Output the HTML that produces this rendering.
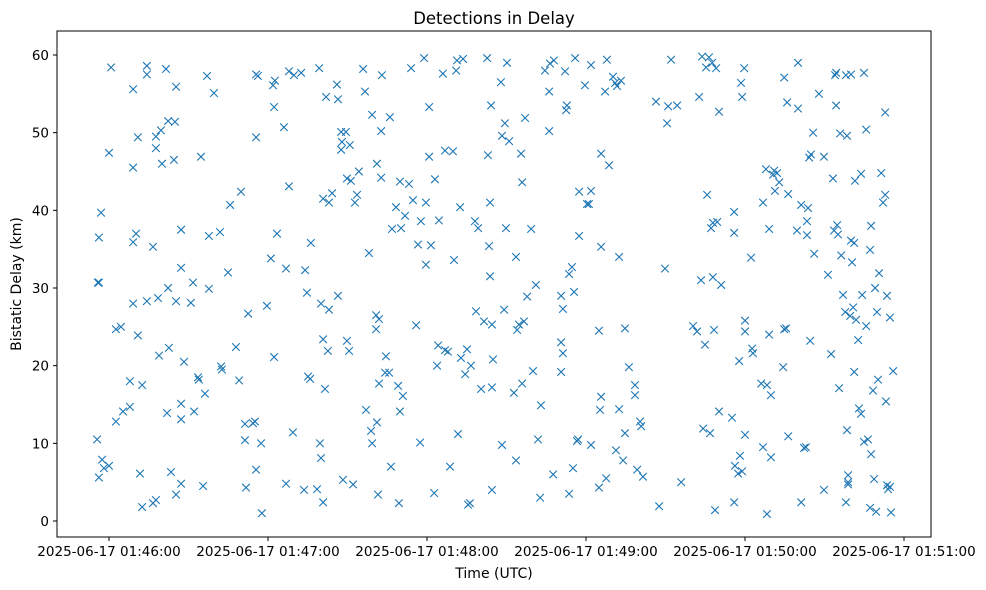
<!DOCTYPE html>
<html><head><meta charset="utf-8">
<style>
html,body{margin:0;padding:0;background:#fff;}
svg{display:block;font-family:"DejaVu Sans","Liberation Sans",sans-serif;}
</style></head>
<body>
<svg id="chart" width="986" height="590" viewBox="0 0 986 590">
<rect x="0" y="0" width="986" height="590" fill="#fff"/>
<text x="494" y="24" text-anchor="middle" font-size="16.5" fill="#000">Detections in Delay</text>
<text x="494" y="578" text-anchor="middle" font-size="14" fill="#000">Time (UTC)</text>
<text x="21" y="284" text-anchor="middle" font-size="14" fill="#000" transform="rotate(-90 21 284)">Bistatic Delay (km)</text>
<g id="marks"></g>
<g id="axes"></g>
</svg>
<script>
// seconds after 01:45:00 UTC
const xTickSeconds=[60,120,180,240,300,360];
const xTickLabels=["2025-06-17 01:46:00","2025-06-17 01:47:00","2025-06-17 01:48:00","2025-06-17 01:49:00","2025-06-17 01:50:00","2025-06-17 01:51:00"];
const yTickValues=[0,10,20,30,40,50,60];
const times=[55.8,56.2,55.5,56.2,57.0,56.2,57.4,58.1,60.0,60.0,60.8,62.6,64.5,65.3,62.6,67.9,67.9,69.1,69.1,69.1,69.1,70.2,70.9,70.9,71.7,72.5,72.5,74.3,74.3,74.3,76.6,76.6,77.7,77.7,77.7,78.5,78.9,79.6,80.0,81.5,81.9,82.3,82.3,82.6,83.4,84.9,84.5,85.3,85.3,85.3,
87.2,87.2,87.2,87.2,87.2,88.3,90.9,91.7,92.1,93.6,93.9,94.7,95.5,96.2,97.0,97.7,97.7,99.6,101.9,102.3,102.6,104.9,105.7,107.9,109.1,109.8,111.3,111.3,111.7,112.5,114.3,115.1,115.5,115.5,115.5,116.2,117.4,117.7,119.6,121.1,121.9,122.3,122.3,122.6,123.4,126.0,126.8,126.8,127.9,127.9,129.4,129.8,132.5,133.6,134.0,134.7,135.1,135.9,136.2,138.5,139.3,139.6,140.0,140.0,140.8,140.8,140.8,141.5,141.9,142.6,143.0,143.0,144.2,146.0,146.4,146.4,147.6,147.6,147.9,148.3,149.4,149.8,149.8,150.6,150.9,151.3,152.1,152.8,153.6,154.3,155.9,156.6,157.0,158.1,158.9,159.3,159.3,160.8,160.8,161.1,161.5,161.1,161.9,161.9,162.7,162.7,163.0,164.2,164.5,165.7,166.0,166.4,166.8,168.3,169.1,169.4,169.8,169.8,170.2,170.9,171.7,173.2,174.0,174.7,175.9,176.6,177.4,177.7,178.9,179.6,179.6,180.8,180.8,181.5,182.7,183.0,183.8,184.2,184.5,186.0,186.8,186.8,187.9,188.7,189.8,190.2,191.0,191.3,191.7,192.5,192.8,193.6,194.4,195.1,195.5,196.2,196.6,198.1,198.5,199.3,200.4,201.5,202.7,203.0,203.4,203.8,203.8,204.2,204.5,204.5,204.9,204.5,
207.9,208.3,208.3,209.1,209.4,209.8,210.2,211.0,212.8,213.6,213.6,214.0,214.7,215.5,215.9,215.9,216.6,217.0,217.8,219.3,220.0,221.1,221.9,222.7,223.0,224.5,226.1,226.1,226.4,227.6,227.9,230.6,230.6,230.6,231.3,231.3,232.1,232.5,232.8,233.6,233.6,234.7,235.1,235.5,235.9,236.6,237.0,237.4,237.4,239.6,240.4,241.1,241.9,241.9,241.9,244.9,244.9,245.3,245.7,245.7,245.7,247.2,247.6,247.9,248.7,250.2,251.0,251.3,251.7,252.5,252.5,253.2,254.0,254.7,254.7,256.2,258.5,258.5,259.3,260.4,260.8,261.5,266.4,267.6,269.8,270.6,271.0,272.1,274.4,275.9,
280.4,281.9,282.7,283.4,283.8,284.2,284.9,285.3,285.7,286.4,286.8,287.2,287.6,287.9,287.9,288.3,288.7,289.1,289.5,290.2,290.2,291.0,295.1,295.9,295.9,295.9,296.2,297.4,297.8,298.1,298.5,298.9,298.9,299.7,300.0,300.0,300.0,302.3,302.7,303.0,306.1,306.8,306.8,307.9,308.3,308.3,309.1,309.1,309.8,309.8,310.6,311.0,311.3,312.1,312.9,314.4,314.8,314.8,315.5,315.9,316.3,316.3,319.6,320.0,320.0,321.2,321.2,322.3,323.0,323.4,323.4,323.8,324.2,324.6,324.9,325.7,326.1,327.9,329.8,329.8,331.3,332.5,333.2,333.6,334.0,334.4,334.4,334.8,335.1,335.5,335.9,336.3,337.0,337.8,338.1,338.1,338.5,338.5,338.9,338.9,338.9,339.7,340.0,340.0,340.4,340.8,341.2,341.2,341.5,341.9,342.7,343.0,343.8,343.8,344.2,344.9,344.9,345.7,345.7,346.4,347.2,347.2,347.6,347.6,348.3,348.7,349.1,349.5,349.8,350.2,350.6,351.4,352.1,352.9,352.9,353.2,353.6,353.6,354.0,354.7,355.1,354.7,355.9];
const delays=[30.7,30.7,10.5,36.5,39.7,5.6,7.9,6.8,7.1,47.4,58.4,24.7,25,14.1,12.8,14.7,18,55.6,45.5,35.9,28,37,49.4,23.9,6.1,17.5,1.8,58.6,57.5,28.3,35.3,2.3,2.7,49.5,48,28.7,21.3,50.3,46,58.2,13.9,51.5,30,22.3,6.3,51.4,46.5,55.9,3.4,28.3,
32.6,37.5,15.1,13.1,4.8,20.5,28.1,30.7,14.1,18.5,18.2,46.9,4.5,16.4,57.3,29.9,36.7,55.1,37.2,19.9,19.5,32,40.7,22.4,18.1,42.4,12.5,10.4,4.3,26.7,12.6,12.8,6.6,49.4,57.5,57.3,10.0,1.0,27.7,33.8,56.1,21.1,53.3,56.7,37,50.7,32.5,4.8,43.1,57.9,11.4,57.4,57.7,4.0,32.3,29.4,18.6,18.3,35.8,4.1,58.3,10.0,8.1,28,41.5,23.4,2.4,17.0,54.6,21.9,41,27.2,42.2,56.2,54.3,29,50.1,47.8,48.8,5.3,50.1,44.1,23.2,21.9,48.4,43.8,4.7,41,42,45,58.2,55.3,14.3,34.5,11.6,10,52.3,26.5,24.7,46,3.4,12.7,17.7,26,44.2,50.2,57.4,19.1,21.2,19.1,52,7,37.6,40.4,17.4,2.3,14.1,43.7,37.7,16.1,39.3,43.4,58.3,41.3,25.2,35.6,10.1,38.6,59.6,33,41,53.3,46.9,35.5,3.6,44,20,22.6,38.7,57.6,22,47.7,21.8,7,47.6,33.6,58,59.3,11.2,40.4,21,59.5,18.9,22.1,2.1,2.3,20,38.6,27,37.7,17,25.7,59.6,47.1,35.4,41,31.5,53.5,17.2,25.3,20.8,4,
56.5,49.6,9.8,27.2,51.2,37.7,59,48.9,16.5,7.8,34,24.6,25.3,47.3,17.7,43.6,25.7,51.9,28.9,37.6,19.3,30.4,10.5,3,14.9,58,50.2,55.3,58.9,6,59.3,29,23,19.2,21.6,27.3,57.9,52.9,53.5,31.8,3.5,32.7,6.8,29.5,59.6,10.3,10.5,42.4,36.7,56.1,40.8,40.8,42.5,9.8,58.7,24.5,4.3,14.3,16,35.3,47.3,55.3,5.5,59.4,45.8,57.2,56.4,9.1,56,14.4,34,56.7,7.8,24.8,11.3,19.8,17.5,16.2,6.6,12.8,12.2,5.7,54,1.9,32.5,51.2,53.4,59.4,53.5,5,
25.1,24.4,54.6,31,59.8,11.9,22.7,58.4,42,59.7,11.3,37.7,59,38.4,31.4,24.6,1.4,58.3,38.5,52.7,14.1,30.4,13.3,39.8,37.1,2.4,7.1,6.1,20.6,8.4,56.4,6.4,54.6,58.3,25.8,24.4,11.1,33.9,22.2,21.6,17.7,41,9.5,45.3,0.9,17.5,37.6,24,8.2,16.2,44.6,45.1,42.5,44.8,43.6,19.8,24.7,57.1,24.8,53.9,10.9,42.1,37.4,59,53.1,2.4,40.7,9.4,9.5,36.8,38.6,40.3,46.8,23.2,47.2,50,34.4,55,4,46.9,31.7,21.5,44.1,37.4,57.4,57.7,53.5,38.1,36.9,17.1,49.9,34.2,29.1,26.9,2.4,57.4,49.6,11.7,5.9,5,4.7,26.4,57.5,36.1,33.3,27.5,35.8,19.2,43.8,25.9,23.3,14.5,44.7,13.8,29.1,10.2,57.7,25.1,50.4,10.5,34.9,1.7,8.6,38,16.8,5.4,30,1.2,26.9,18.2,31.9,44.8,41,42,52.6,15.4,29,4.6,4.1,26.2,1.1,4.4,19.3];

const NS="http://www.w3.org/2000/svg";
const L=57,R=931,T=31,B=537;
function xScale(t){return 109+(t-60)*159/60;}
function yScale(d){return 521-d*(466/60);}
const marks=document.getElementById('marks');
const axes=document.getElementById('axes');
function mk(tag,attrs,parent){const e=document.createElementNS(NS,tag);for(const k in attrs)e.setAttribute(k,attrs[k]);parent.appendChild(e);return e;}
const n=Math.min(times.length,delays.length);
for(let i=0;i<n;i++){
  const cx=xScale(times[i]),cy=yScale(delays[i]),s=3.8;
  const p=mk('path',{d:`M${cx-s},${cy-s}L${cx+s},${cy+s}M${cx-s},${cy+s}L${cx+s},${cy-s}`,stroke:'#1f77b4','stroke-width':1.1,fill:'none'},marks);
  
  
}
const frame=mk('rect',{x:L,y:T,width:R-L,height:B-T,fill:'none',stroke:'#000','stroke-width':1},axes);


xTickSeconds.forEach((t,i)=>{
  const x=xScale(t);
  const tk=mk('line',{x1:x,y1:B,x2:x,y2:B+4,stroke:'#000'},axes);
  
  
  const lb=mk('text',{x:x,y:B+19,'text-anchor':'middle','font-size':13.5,fill:'#000'},axes);
  lb.textContent=xTickLabels[i];
  
  
});
yTickValues.forEach(v=>{
  const y=yScale(v);
  const tk=mk('line',{x1:L-4,y1:y,x2:L,y2:y,stroke:'#000'},axes);
  
  
  const lb=mk('text',{x:L-8,y:y+5,'text-anchor':'end','font-size':13.5,fill:'#000'},axes);
  lb.textContent=v;
  
  
});
</script>
</body></html>
